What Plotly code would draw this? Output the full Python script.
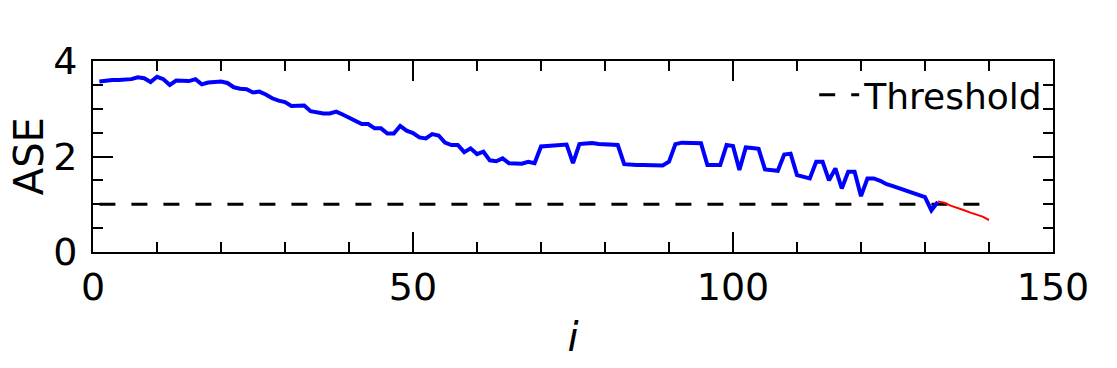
import plotly.graph_objects as go

# ASE per iteration
ase_blue = [3.57, 3.59, 3.60, 3.60, 3.60, 3.62, 3.66, 3.64, 3.56, 3.67,
            3.62, 3.50, 3.59, 3.59, 3.58, 3.62, 3.51, 3.55, 3.55, 3.57,
            3.54, 3.45, 3.42, 3.41, 3.34, 3.36, 3.30, 3.22, 3.17, 3.14,
            3.06, 3.06, 3.07, 2.95, 2.92, 2.90, 2.90, 2.94, 2.88, 2.81,
            2.75, 2.68, 2.68, 2.59, 2.59, 2.48, 2.48, 2.64, 2.54, 2.49,
            2.40, 2.38, 2.47, 2.44, 2.29, 2.24, 2.24, 2.09, 2.17, 2.05,
            2.10, 1.92, 1.90, 1.96, 1.86, 1.85, 1.85, 1.89, 1.86, 2.21,
            2.22, 2.23, 2.24, 2.25, 1.86, 2.26, 2.27, 2.28, 2.26, 2.26,
            2.26, 2.24, 1.84, 1.82, 1.82, 1.82, 1.81, 1.80, 1.81, 1.89,
            2.26, 2.29, 2.29, 2.29, 2.28, 1.82, 1.82, 1.82, 2.24, 2.22,
            1.72, 2.19, 2.18, 2.16, 1.73, 1.72, 1.70, 2.04, 2.06, 1.61,
            1.58, 1.54, 1.89, 1.89, 1.50, 1.75, 1.33, 1.68, 1.68, 1.17,
            1.54, 1.54, 1.49, 1.42, 1.38, 1.33, 1.28, 1.24, 1.20, 1.15,
            0.87, 1.05]
i_blue = list(range(1, len(ase_blue) + 1))

ase_red = [1.06, 1.03, 0.97, 0.93, 0.88, 0.83, 0.78, 0.74, 0.67]
i_red = list(range(132, 132 + len(ase_red)))

threshold = 1.0
i_thr = [1, 140]

fig = go.Figure()
fig.add_trace(go.Scatter(x=i_thr, y=[threshold, threshold], mode="lines",
                         line=dict(color="black", width=3, dash="16px,16px"),
                         name="Threshold"))
fig.add_trace(go.Scatter(x=i_blue, y=ase_blue, mode="lines",
                         line=dict(color="#0000ff", width=4), showlegend=False))
fig.add_trace(go.Scatter(x=i_red, y=ase_red, mode="lines",
                         line=dict(color="#ff0000", width=2), showlegend=False))

axis_common = dict(
    showline=True, linecolor="black", linewidth=2, mirror="allticks",
    ticks="inside", ticklen=20, tickwidth=2, tickcolor="black",
    showgrid=False, zeroline=False, automargin=False,
    tickfont=dict(family="DejaVu Sans", size=38, color="black"),
)

fig.update_xaxes(range=[0, 150], dtick=50, tick0=0,
                 minor=dict(dtick=10, ticks="inside", ticklen=10, tickwidth=2,
                            tickcolor="black", showgrid=False),
                 title=dict(text="<i>i</i>", font=dict(family="DejaVu Sans", size=40, color="black")),
                 **axis_common)
fig.update_yaxes(range=[0, 4], dtick=2, tick0=0,
                 minor=dict(dtick=0.5, ticks="inside", ticklen=10, tickwidth=2,
                            tickcolor="black", showgrid=False),
                 ticklabelstandoff=6,
                 **axis_common)

# y title as an annotation so it sits where the reference has it
fig.add_annotation(text="ASE", xref="paper", yref="paper", x=-0.067, y=0.5,
                   xanchor="center", yanchor="middle", textangle=-90, showarrow=False,
                   font=dict(family="DejaVu Sans", size=40, color="black"))

# the page body adds an 8px offset, margins compensate for it
fig.update_layout(
    width=1117, height=368,
    margin=dict(l=85, r=72, t=53, b=124),
    plot_bgcolor="white", paper_bgcolor="white",
    font=dict(family="DejaVu Sans", color="black"),
    legend=dict(x=0.995, y=0.98, xanchor="right", yanchor="top",
                bgcolor="rgba(0,0,0,0)", itemwidth=40,
                font=dict(family="DejaVu Sans", size=36, color="black")),
)

fig.write_html("out.html")
